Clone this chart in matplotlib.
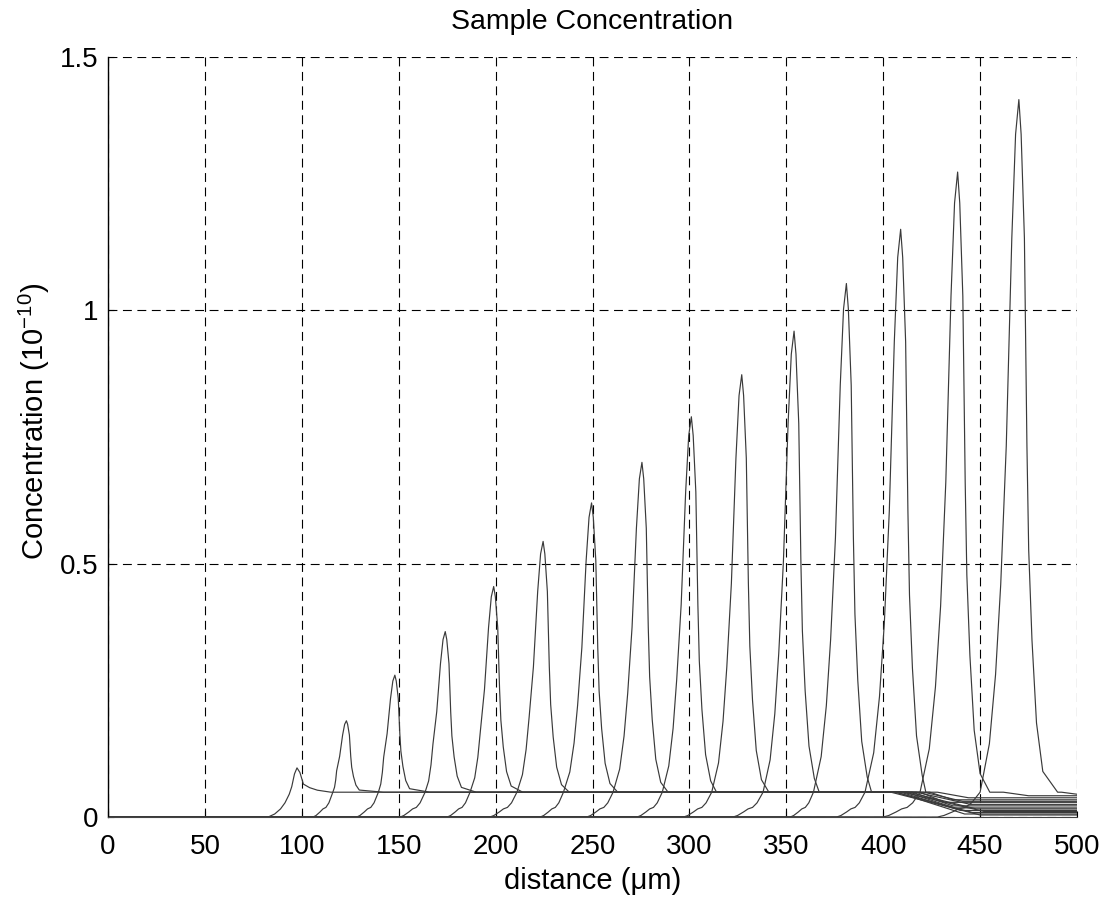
import matplotlib
matplotlib.use("Agg")
from matplotlib import pyplot as plt

plt.rcParams['font.family'] = ['Liberation Sans', 'DejaVu Sans']
plt.rcParams['mathtext.default'] = 'regular'

# one concentration profile per time step: apex position (um) and height (1e-10)
peak_x = [97.5, 123, 148, 174, 199, 224.5, 249.5, 275.5, 301, 327, 354, 381, 409, 438.4, 470]
peak_h = [0.097, 0.19, 0.28, 0.366, 0.455, 0.544, 0.62, 0.70, 0.79, 0.873, 0.959, 1.053, 1.16, 1.273, 1.416]
# where each profile leaves zero, where its front crosses the plateau, where its back settles
foot_start = [82.6, 105.8, 128.3, 150.7, 175, 197, 223, 247, 273, 297, 322.5, 352, 376, 400, 428]
cross_left = [91.3, 116, 139.5, 163.6, 186.8, 211, 235, 260.6, 286, 311.5, 338, 364, 390.6, 419, 450]
tail_end = [115, 142, 166, 190, 214, 238, 263, 289, 314, 341, 367, 394, 422, 455, 490]
# width of the upper part of each peak, relative to the middle ones
peak_w = [1.0, 0.7, 0.8, 0.88, 0.95, 1.0, 1.0, 1.02, 1.05, 1.07, 1.1, 1.13, 1.17, 1.22, 1.3]

plateau = 0.049

# foot shape: fraction of the foot span, value
foot_t = [0, 0.15, 0.35, 0.5, 0.65, 0.8, 1.0]
foot_v = [0, 0.003, 0.01, 0.016, 0.019, 0.028, 0.049]

# lower front flank, between the plateau crossing and the upper peak (fraction of that gap)
flank_t = [0.45, 0.75]
flank_f = [0.07, 0.17]

# upper peak shape: offset from apex, fraction of (height - plateau)
left_dx = [-7.2, -5.0, -2.8, -1.3, 0]
left_f = [0.3, 0.5, 0.8, 0.95, 1.0]
right_dx = [0.9, 2.2, 3.2, 3.9, 5.2, 7.0, 9.5]
right_f = [0.95, 0.8, 0.5, 0.35, 0.22, 0.1, 0.03]

# first profile is small and rounded: read on its own
first_x = [0, 82.6, 86, 89, 91.3, 93.5, 94.8, 96.2, 97.5, 99, 100.8, 104, 108, 115]
first_y = [0, 0, 0.006, 0.016, 0.028, 0.045, 0.06, 0.085, 0.097, 0.088, 0.065, 0.058, 0.053, 0.049]

# far right: plateau starts to drop, lands, and level kept up to 500
drop_start = [404, 406, 407, 409, 410, 412, 413, 415, 417, 419, 421, 424, 428, 462, 492]
drop_end = [450, 446, 442, 440, 452, 437, 448, 436, 445, 432, 441, 436, 444, 475, 500]
end_level = [0.004, 0.009, 0.006, 0.013, 0.011, 0.018, 0.016, 0.022, 0.025, 0.029, 0.031, 0.034, 0.038, 0.042, 0.045]

fig = plt.figure(figsize=(11.07, 9.01), dpi=100)
ax = fig.add_axes([0.0976, 0.0932, 0.8753, 0.8435])

for i in range(len(peak_x)):
    px, h, w = peak_x[i], peak_h[i], peak_w[i]
    if i == 0:
        xs = list(first_x)
        ys = list(first_y)
    else:
        span = cross_left[i] - foot_start[i]
        xs = [0] + [foot_start[i] + t * span for t in foot_t]
        ys = [0] + list(foot_v)
        gap = px + left_dx[0] * w - cross_left[i]
        xs += [cross_left[i] + t * gap for t in flank_t]
        ys += [plateau + (h - plateau) * f for f in flank_f]
        xs += [px + d * w for d in left_dx] + [px + d * w for d in right_dx] + [tail_end[i]]
        ys += [plateau + (h - plateau) * f for f in left_f + right_f] + [plateau]
    if drop_start[i] > xs[-1]:
        xs.append(drop_start[i])
        ys.append(plateau)
    xs += [drop_end[i], 500]
    ys += [end_level[i], end_level[i]]
    ax.plot(xs, ys, color='#3a3a3a', lw=0.85)

ax.set_xlim(0, 500)
ax.set_ylim(0, 1.5)
ax.set_xticks(range(0, 501, 50))
ax.set_yticks([0, 0.5, 1, 1.5])
ax.set_yticklabels(['0', '0.5', '1', '1.5'])
ax.grid(True, color='black', linestyle=(0, (8, 5)), lw=0.8)
ax.tick_params(direction='in', length=4, labelsize=20, pad=12)
ax.tick_params(axis='y', pad=7)
ax.spines['top'].set_visible(False)
ax.spines['right'].set_visible(False)
ax.spines['left'].set_linewidth(1.0)
ax.spines['bottom'].set_linewidth(0.8)
ax.spines['bottom'].set_color('#444444')

ax.set_title('Sample Concentration', fontsize=20.5, pad=20)
ax.set_xlabel('distance (μm)', fontsize=21, labelpad=5)
ax.set_ylabel('Concentration (10$^{-10}$)', fontsize=21, labelpad=6)
ax.yaxis.set_label_coords(-0.058, 0.52)

fig.savefig('out.png', dpi=100)
